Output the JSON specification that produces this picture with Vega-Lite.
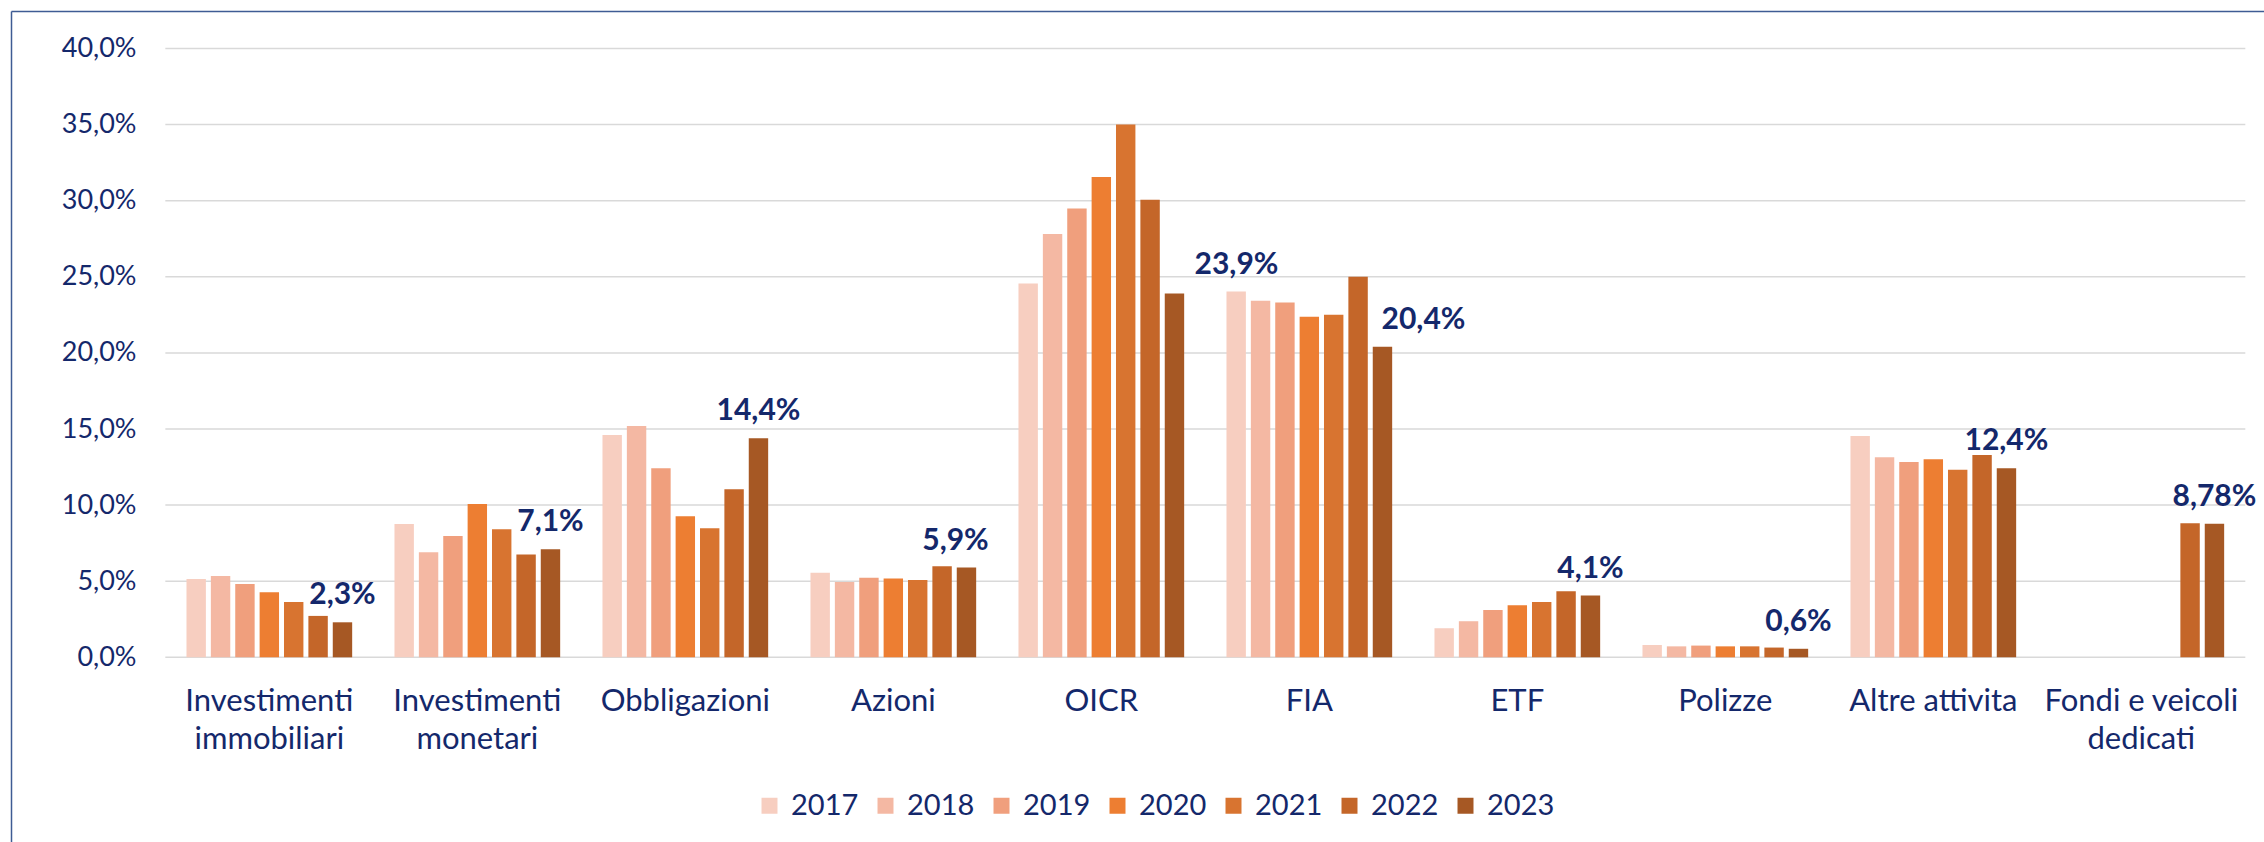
{
  "$schema": "https://vega.github.io/schema/vega-lite/v6.json",
  "width": 2253,
  "height": 831,
  "autosize": {"type": "none"},
  "padding": {"left": 11, "top": 11, "right": 0, "bottom": 0},
  "background": "white",
  "config": {
    "view": {"stroke": null},
    "font": "Lato",
    "locale": {"number": {"decimal": ",", "thousands": ".", "grouping": [3], "currency": ["", " €"]}}
  },
  "datasets": {
    "bars": [
      {"category": "Investimenti immobiliari", "year": "2017", "value": 0.0515},
      {"category": "Investimenti immobiliari", "year": "2018", "value": 0.0534},
      {"category": "Investimenti immobiliari", "year": "2019", "value": 0.0482},
      {"category": "Investimenti immobiliari", "year": "2020", "value": 0.0427},
      {"category": "Investimenti immobiliari", "year": "2021", "value": 0.0364},
      {"category": "Investimenti immobiliari", "year": "2022", "value": 0.0272},
      {"category": "Investimenti immobiliari", "year": "2023", "value": 0.023, "label": "2,3%"},
      {"category": "Investimenti monetari", "year": "2017", "value": 0.0876},
      {"category": "Investimenti monetari", "year": "2018", "value": 0.069},
      {"category": "Investimenti monetari", "year": "2019", "value": 0.0797},
      {"category": "Investimenti monetari", "year": "2020", "value": 0.1007},
      {"category": "Investimenti monetari", "year": "2021", "value": 0.0841},
      {"category": "Investimenti monetari", "year": "2022", "value": 0.0675},
      {"category": "Investimenti monetari", "year": "2023", "value": 0.071, "label": "7,1%"},
      {"category": "Obbligazioni", "year": "2017", "value": 0.1461},
      {"category": "Obbligazioni", "year": "2018", "value": 0.152},
      {"category": "Obbligazioni", "year": "2019", "value": 0.1242},
      {"category": "Obbligazioni", "year": "2020", "value": 0.0926},
      {"category": "Obbligazioni", "year": "2021", "value": 0.0848},
      {"category": "Obbligazioni", "year": "2022", "value": 0.1104},
      {"category": "Obbligazioni", "year": "2023", "value": 0.144, "label": "14,4%"},
      {"category": "Azioni", "year": "2017", "value": 0.0555},
      {"category": "Azioni", "year": "2018", "value": 0.0495},
      {"category": "Azioni", "year": "2019", "value": 0.0522},
      {"category": "Azioni", "year": "2020", "value": 0.0518},
      {"category": "Azioni", "year": "2021", "value": 0.0508},
      {"category": "Azioni", "year": "2022", "value": 0.0598},
      {"category": "Azioni", "year": "2023", "value": 0.059, "label": "5,9%"},
      {"category": "OICR", "year": "2017", "value": 0.2456},
      {"category": "OICR", "year": "2018", "value": 0.2782},
      {"category": "OICR", "year": "2019", "value": 0.2948},
      {"category": "OICR", "year": "2020", "value": 0.3156},
      {"category": "OICR", "year": "2021", "value": 0.35},
      {"category": "OICR", "year": "2022", "value": 0.3006},
      {"category": "OICR", "year": "2023", "value": 0.239, "label": "23,9%"},
      {"category": "FIA", "year": "2017", "value": 0.2403},
      {"category": "FIA", "year": "2018", "value": 0.2343},
      {"category": "FIA", "year": "2019", "value": 0.2331},
      {"category": "FIA", "year": "2020", "value": 0.2238},
      {"category": "FIA", "year": "2021", "value": 0.225},
      {"category": "FIA", "year": "2022", "value": 0.2501},
      {"category": "FIA", "year": "2023", "value": 0.204, "label": "20,4%"},
      {"category": "ETF", "year": "2017", "value": 0.0191},
      {"category": "ETF", "year": "2018", "value": 0.0237},
      {"category": "ETF", "year": "2019", "value": 0.0311},
      {"category": "ETF", "year": "2020", "value": 0.0342},
      {"category": "ETF", "year": "2021", "value": 0.0364},
      {"category": "ETF", "year": "2022", "value": 0.0434},
      {"category": "ETF", "year": "2023", "value": 0.0406, "label": "4,1%"},
      {"category": "Polizze", "year": "2017", "value": 0.0081},
      {"category": "Polizze", "year": "2018", "value": 0.0072},
      {"category": "Polizze", "year": "2019", "value": 0.0077},
      {"category": "Polizze", "year": "2020", "value": 0.0072},
      {"category": "Polizze", "year": "2021", "value": 0.0072},
      {"category": "Polizze", "year": "2022", "value": 0.0064},
      {"category": "Polizze", "year": "2023", "value": 0.0056, "label": "0,6%"},
      {"category": "Altre attivita", "year": "2017", "value": 0.1454},
      {"category": "Altre attivita", "year": "2018", "value": 0.1314},
      {"category": "Altre attivita", "year": "2019", "value": 0.1283},
      {"category": "Altre attivita", "year": "2020", "value": 0.1301},
      {"category": "Altre attivita", "year": "2021", "value": 0.1233},
      {"category": "Altre attivita", "year": "2022", "value": 0.1329},
      {"category": "Altre attivita", "year": "2023", "value": 0.1242, "label": "12,4%"},
      {"category": "Fondi e veicoli dedicati", "year": "2022", "value": 0.088},
      {"category": "Fondi e veicoli dedicati", "year": "2023", "value": 0.0878, "label": "8,78%"}
    ],
    "grid": [
      {"g": 0}, {"g": 0.05}, {"g": 0.1}, {"g": 0.15}, {"g": 0.2},
      {"g": 0.25}, {"g": 0.3}, {"g": 0.35}, {"g": 0.4}
    ]
  },
  "layer": [
    {
      "data": {"name": "grid"},
      "mark": {"type": "rule", "color": "#D9D9D9", "strokeWidth": 1.5},
      "encoding": {
        "y": {
          "field": "g", "type": "quantitative",
          "scale": {"domain": [-0.12135, 0.42464], "nice": false},
          "axis": {
            "orient": "left", "title": null,
            "values": [0, 0.05, 0.1, 0.15, 0.2, 0.25, 0.3, 0.35, 0.4],
            "format": ".1%",
            "grid": false, "ticks": false, "tickSize": 0,
            "domain": true, "domainColor": "#3E5C94", "domainWidth": 1.5,
            "labelPadding": -125, "labelAlign": "right",
            "labelFont": "Lato", "labelFontSize": 27, "labelColor": "#14286B"
          }
        },
        "x": {
          "datum": "Investimenti immobiliari", "bandPosition": 0,
          "scale": {
            "domain": ["Investimenti immobiliari", "Investimenti monetari", "Obbligazioni", "Azioni", "OICR", "FIA", "ETF", "Polizze", "Altre attivita", "Fondi e veicoli dedicati"],
            "paddingInner": 0, "paddingOuter": 0.4159, "align": 0.892
          },
          "axis": {
            "orient": "top", "title": null,
            "domain": true, "domainColor": "#3E5C94", "domainWidth": 1.5,
            "ticks": false, "tickSize": 0, "grid": false,
            "labelPadding": -699.7, "labelBaseline": "alphabetic", "labelAngle": 0, "labelAlign": "center",
            "labelFont": "Lato", "labelFontSize": 31, "labelColor": "#14286B",
            "labelLineHeight": 37.6, "labelLimit": 0, "labelOverlap": false,
            "labelExpr": "datum.value == 'Fondi e veicoli dedicati' ? ['Fondi e veicoli', 'dedicati'] : indexof(datum.value, 'Investimenti ') == 0 ? ['Investimenti', substring(datum.value, 13)] : datum.value"
          }
        },
        "x2": {"datum": "Fondi e veicoli dedicati", "bandPosition": 1}
      }
    },
    {
      "data": {"name": "bars"},
      "mark": {"type": "bar"},
      "encoding": {
        "x": {"field": "category", "type": "nominal"},
        "xOffset": {
          "field": "year", "type": "nominal",
          "scale": {"domain": ["2017", "2018", "2019", "2020", "2021", "2022", "2023"], "paddingInner": 0.204, "paddingOuter": 0.8676}
        },
        "y": {"field": "value", "type": "quantitative", "stack": null},
        "y2": {"datum": 0},
        "color": {
          "field": "year", "type": "nominal",
          "scale": {
            "domain": ["2017", "2018", "2019", "2020", "2021", "2022", "2023"],
            "range": ["#F7CEC0", "#F4B8A3", "#F09F7D", "#ED7E32", "#D87430", "#C46629", "#A65824"]
          },
          "legend": {
            "orient": "none", "legendX": 744, "legendY": 780, "direction": "horizontal",
            "title": null, "symbolType": "square", "symbolSize": 256, "symbolStrokeWidth": 0,
            "labelFont": "Lato", "labelFontSize": 29, "labelColor": "#14286B",
            "labelOffset": 7, "columnPadding": 12
          }
        }
      }
    },
    {
      "data": {"name": "bars"},
      "transform": [{"filter": "datum.label != null && datum.category != 'OICR' && datum.category != 'FIA' && datum.category != 'Azioni'"}],
      "mark": {"type": "text", "baseline": "alphabetic", "dy": -18, "fontWeight": "bold", "fontSize": 30, "font": "Lato", "color": "#14286B"},
      "encoding": {
        "x": {"field": "category", "type": "nominal"},
        "xOffset": {"field": "year", "type": "nominal", "scale": {"domain": ["2017", "2018", "2019", "2020", "2021", "2022", "2023"], "paddingInner": 0.204, "paddingOuter": 0.8676}},
        "y": {"field": "value", "type": "quantitative"},
        "text": {"field": "label"}
      }
    },
    {
      "data": {"name": "bars"},
      "transform": [{"filter": "datum.label != null && datum.category == 'OICR'"}],
      "mark": {"type": "text", "baseline": "alphabetic", "dx": 62, "dy": -20, "fontWeight": "bold", "fontSize": 30, "font": "Lato", "color": "#14286B"},
      "encoding": {
        "x": {"field": "category", "type": "nominal"},
        "xOffset": {"field": "year", "type": "nominal", "scale": {"domain": ["2017", "2018", "2019", "2020", "2021", "2022", "2023"], "paddingInner": 0.204, "paddingOuter": 0.8676}},
        "y": {"field": "value", "type": "quantitative"},
        "text": {"field": "label"}
      }
    },
    {
      "data": {"name": "bars"},
      "transform": [{"filter": "datum.label != null && datum.category == 'FIA'"}],
      "mark": {"type": "text", "baseline": "alphabetic", "dx": 41, "dy": -18, "fontWeight": "bold", "fontSize": 30, "font": "Lato", "color": "#14286B"},
      "encoding": {
        "x": {"field": "category", "type": "nominal"},
        "xOffset": {"field": "year", "type": "nominal", "scale": {"domain": ["2017", "2018", "2019", "2020", "2021", "2022", "2023"], "paddingInner": 0.204, "paddingOuter": 0.8676}},
        "y": {"field": "value", "type": "quantitative"},
        "text": {"field": "label"}
      }
    },
    {
      "data": {"name": "bars"},
      "transform": [{"filter": "datum.label != null && datum.category == 'Azioni'"}],
      "mark": {"type": "text", "baseline": "alphabetic", "dx": -11, "dy": -18, "fontWeight": "bold", "fontSize": 30, "font": "Lato", "color": "#14286B"},
      "encoding": {
        "x": {"field": "category", "type": "nominal"},
        "xOffset": {"field": "year", "type": "nominal", "scale": {"domain": ["2017", "2018", "2019", "2020", "2021", "2022", "2023"], "paddingInner": 0.204, "paddingOuter": 0.8676}},
        "y": {"field": "value", "type": "quantitative"},
        "text": {"field": "label"}
      }
    }
  ]
}
